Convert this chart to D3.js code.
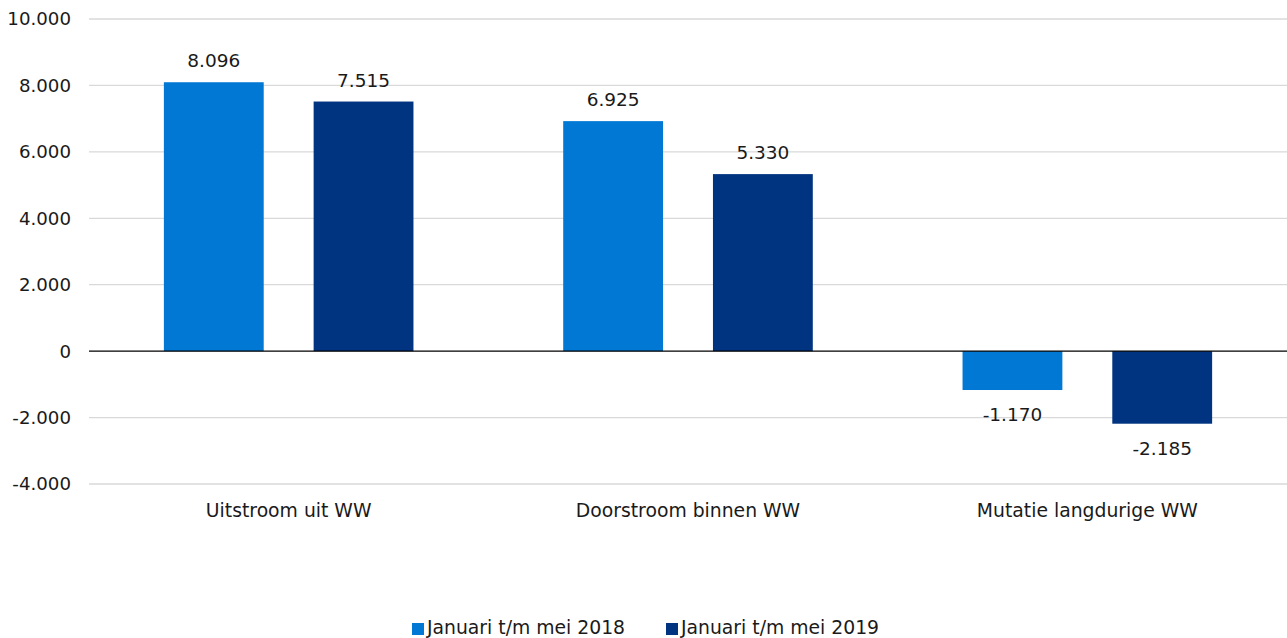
<!DOCTYPE html>
<html><head><meta charset="utf-8">
<script src="https://cdn.jsdelivr.net/npm/d3@7"></script>
<style>body{margin:0;background:#fff}svg{display:block}text{font-family:"DejaVu Sans",Verdana,sans-serif;fill:#1a1a1a}</style>
</head><body>
<script>
const categories = ["Uitstroom uit WW", "Doorstroom binnen WW", "Mutatie langdurige WW"];
const seriesNames = ["Januari t/m mei 2018", "Januari t/m mei 2019"];
const values2018 = [8096, 6925, -1170];
const values2019 = [7515, 5330, -2185];
const yTicks = [-4000, -2000, 0, 2000, 4000, 6000, 8000, 10000];
const colors = ["#0078d4", "#003380"];

const W = 1287, H = 638;
const svg = d3.select("body").append("svg").attr("width", W).attr("height", H);
const fmt = v => (v < 0 ? "-" : "") + d3.format(",")(Math.abs(v)).replace(/,/g, ".");

const y = d3.scaleLinear().domain([-4000, 10000]).range([484, 19]);
const x0 = d3.scaleBand().domain(categories).range([89, 1287]).paddingInner(0).paddingOuter(0);
const bw = x0.bandwidth();
const x1 = d3.scaleBand().domain(seriesNames).range([bw * 0.1875, bw * 0.8125]).paddingInner(1 / 3).paddingOuter(0);

// gridlines
svg.append("g").selectAll("line").data(yTicks.filter(d => d !== 0)).join("line")
  .attr("x1", 89).attr("x2", W).attr("y1", d => y(d)).attr("y2", d => y(d))
  .attr("stroke", "#d9d9d9").attr("stroke-width", 1.3);

// y tick labels
svg.append("g").selectAll("text").data(yTicks).join("text")
  .attr("x", 71).attr("y", d => y(d)).attr("dy", "0.35em").attr("text-anchor", "end")
  .attr("font-size", 18.2).text(d => fmt(d));

const data = [values2018, values2019];
const g = svg.append("g");
seriesNames.forEach((s, si) => {
  const vals = data[si];
  g.selectAll(null).data(vals).join("rect")
    .attr("x", (d, i) => x0(categories[i]) + x1(s))
    .attr("width", x1.bandwidth())
    .attr("y", d => y(Math.max(0, d)))
    .attr("height", d => Math.abs(y(d) - y(0)))
    .attr("fill", colors[si]);
  g.selectAll(null).data(vals).join("text")
    .attr("x", (d, i) => x0(categories[i]) + x1(s) + x1.bandwidth() / 2)
    .attr("y", d => d >= 0 ? y(d) - 15 : y(d) + 31)
    .attr("text-anchor", "middle").attr("font-size", 18.5)
    .text(d => fmt(d));
});

// zero line
svg.append("line").attr("x1", 89).attr("x2", W).attr("y1", y(0)).attr("y2", y(0))
  .attr("stroke", "#000").attr("stroke-width", 1.3);

// category labels
svg.append("g").selectAll("text").data(categories).join("text")
  .attr("x", d => x0(d) + x0.bandwidth() / 2).attr("y", 517)
  .attr("text-anchor", "middle").attr("font-size", 18.8).text(d => d);

// legend
const legX = [412, 666];
seriesNames.forEach((s, i) => {
  svg.append("rect").attr("x", legX[i]).attr("y", 623).attr("width", 12).attr("height", 12).attr("fill", colors[i]);
  svg.append("text").attr("x", legX[i] + 15).attr("y", 634).attr("font-size", 18.8).text(s);
});
</script>
</body></html>
